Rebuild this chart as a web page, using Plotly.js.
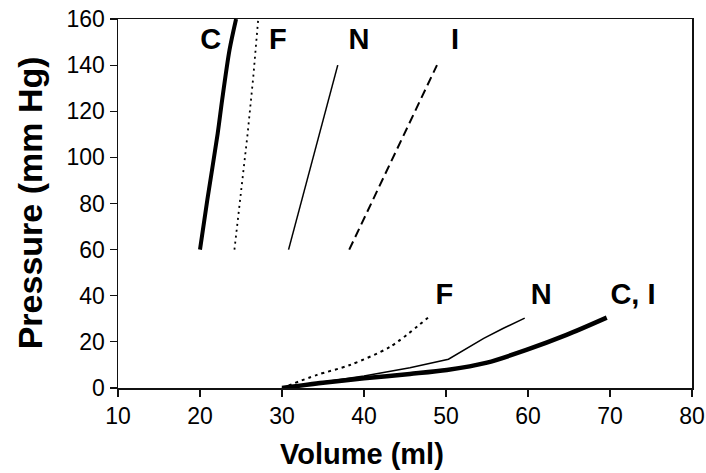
<!DOCTYPE html>
<html>
<head>
<meta charset="utf-8">
<script src="https://cdn.plot.ly/plotly-3.0.1.min.js"></script>
<style>html,body{margin:0;padding:0;background:#fff;}#chart{width:706px;height:473px;}</style>
</head>
<body>
<div id="chart"></div>
<script>
// Upper (end-systolic) relations
const cUpX = [20.0, 20.89, 22.16, 22.7, 23.6, 24.4];
const cUpY = [60, 81.5, 110.4, 124.9, 146.6, 160];
const fUpX = [24.2, 25.0, 25.8, 26.5, 27.1];
const fUpY = [60, 85, 110, 135, 160];
const nUpX = [30.8, 36.8];
const nUpY = [60, 140];
const iUpX = [38.2, 48.9];
const iUpY = [60, 140];
// Lower (end-diastolic) relations
const ciLoX = [30, 35, 40, 45.6, 50.1, 55, 59.8, 64.7, 69.6];
const ciLoY = [0, 2.3, 4.2, 6.1, 7.8, 11, 16.5, 23, 30.5];
const nLoX = [30, 35, 40, 45.6, 50.3, 54.6, 57, 59.6];
const nLoY = [0, 2.7, 5.2, 8.8, 12.5, 21.5, 25.9, 30.3];
const fLoX = [30, 34.2, 38.3, 43.2, 47.8];
const fLoY = [0, 5.6, 10, 17.9, 30.5];
// Curve labels
const labelText = ["C", "F", "N", "I", "F", "N", "C, I"];
const labelX = [21.3, 29.5, 39.4, 51.1, 49.8, 61.6, 72.8];
const labelY = [150, 150, 150, 150, 39.5, 39.5, 39.5];
const xTicks = [10, 20, 30, 40, 50, 60, 70, 80];
const yTicks = [0, 20, 40, 60, 80, 100, 120, 140, 160];
const xTitle = 'Volume (ml)';
const yTitle = 'Pressure (mm Hg)';

const FONT = 'Liberation Sans, Arial, Helvetica, sans-serif';
const ln = (x, y, w, dash, shape) => ({x, y, type: 'scatter', mode: 'lines',
  line: {color: '#000', width: w, dash: dash, shape: shape, smoothing: 0.8}, hoverinfo: 'skip'});
const traces = [
  ln(cUpX, cUpY, 4, 'solid', 'spline'),
  ln(fUpX, fUpY, 1.8, '2px,4px', 'linear'),
  ln(nUpX, nUpY, 1.5, 'solid', 'linear'),
  ln(iUpX, iUpY, 2, '9px,5px', 'linear'),
  ln(ciLoX, ciLoY, 4.5, 'solid', 'spline'),
  ln(nLoX, nLoY, 1.5, 'solid', 'linear'),
  ln(fLoX, fLoY, 2, '3px,4px', 'spline'),
  {x: labelX, y: labelY, text: labelText, type: 'scatter', mode: 'text',
   textfont: {family: FONT, size: 29, color: '#000', weight: 'bold'},
   textposition: 'middle center', hoverinfo: 'skip'}
];

const axisCommon = {
  showgrid: false, zeroline: false, showline: true, linecolor: '#111', linewidth: 1.5,
  mirror: true, ticks: 'outside', ticklen: 7, tickwidth: 1.2, tickcolor: '#111',
  tickfont: {family: FONT, size: 23, color: '#000'}
};

const layout = {
  width: 706, height: 473,
  margin: {l: 118, r: 14, t: 19, b: 85},
  paper_bgcolor: '#fff', plot_bgcolor: '#fff',
  showlegend: false,
  font: {family: FONT, color: '#000'},
  xaxis: Object.assign({range: [10, 80], tickvals: xTicks, ticktext: xTicks.map(String)}, axisCommon),
  yaxis: Object.assign({range: [0, 160], tickvals: yTicks, ticktext: yTicks.map(String)}, axisCommon),
  annotations: [
    {text: xTitle, xref: 'paper', yref: 'paper', x: 0.425, y: -0.178, xanchor: 'center', yanchor: 'middle',
     showarrow: false, font: {family: FONT, size: 29, weight: 'bold', color: '#000'}},
    {text: yTitle, xref: 'paper', yref: 'paper', x: -0.153, y: 0.501, xanchor: 'center', yanchor: 'middle',
     textangle: -90, showarrow: false, font: {family: FONT, size: 34, weight: 'bold', color: '#000'}}
  ]
};
Plotly.newPlot('chart', traces, layout, {staticPlot: true, displayModeBar: false});
</script>
</body>
</html>
